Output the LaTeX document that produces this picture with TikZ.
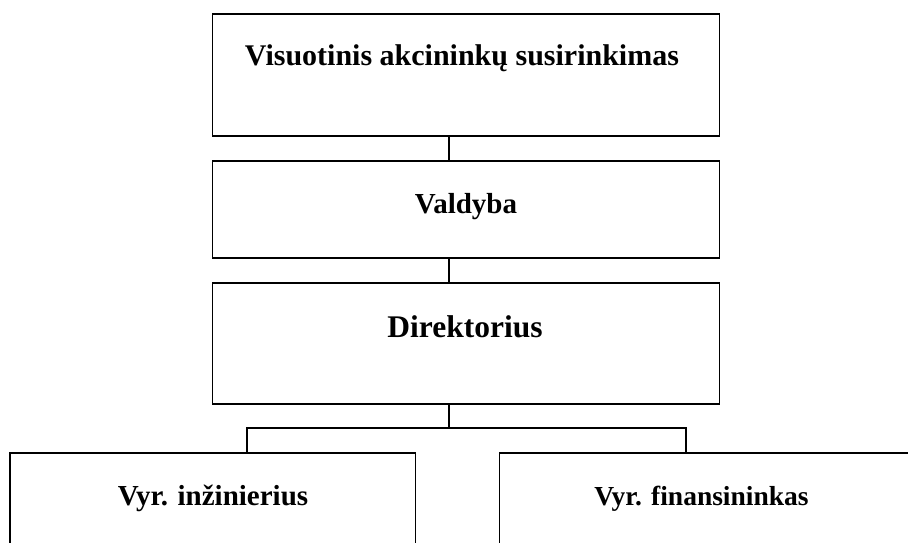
\documentclass[tikz,border=0pt]{standalone}
\usepackage{fontspec}
\setmainfont{Liberation Serif}
\usepackage{tikz}
\tikzstyle{bx}=[shape=rectangle,draw,line width=1.5pt,inner sep=0pt,minimum width=507pt]
\tikzstyle{lbl}=[anchor=base,inner sep=0pt,font=\fontsize{29}{31}\selectfont\bfseries]
\tikzstyle{link}=[line width=1.2pt]

\begin{document}
\begin{tikzpicture}[x=1pt,y=-1pt]
        \clip (0,0) rectangle (908,542);
        \useasboundingbox (0,0) rectangle (908,542);
        \node[bx, minimum height=122pt] (sus) at (466.2, 75) {};
        \node[bx, minimum height=97pt] (val) at (466.2, 209.5) {};
        \node[bx, minimum height=121pt] (dir) at (466.2, 343.5) {};
        \node[bx, minimum width=405.7pt, minimum height=130pt] (inz) at (212.85, 518) {};
        \node[bx, minimum width=430pt, minimum height=130pt] (fin) at (714.3, 518) {};
        \node[lbl, font=\fontsize{30}{32}\selectfont\bfseries] (susT) at (462, 65.7) {Visuotinis akcininkų susirinkimas};
        \node[lbl] (valT) at (466, 213.3) {Valdyba};
        \node[lbl, font=\fontsize{31.5}{33}\selectfont\bfseries] (dirT) at (465, 337.3) {Direktorius};
        \node[lbl] (inzT) at (213, 505) {Vyr. inžinierius};
        \node[lbl, font=\fontsize{27.5}{30}\selectfont\bfseries] (finT) at (701.5, 505) {Vyr. finansininkas};
        \coordinate (spine) at (449, 428);
        \coordinate (busL) at (247, 428);
        \coordinate (busR) at (686, 428);
        \draw[link] (sus.south -| spine) -- (val.north -| spine);
        \draw[link] (val.south -| spine) -- (dir.north -| spine);
        \draw[link] (dir.south -| spine) -- (spine);
        \draw[link] (inz.north -| busL) -- (busL) -- (busR) -- (fin.north -| busR);
    \end{tikzpicture}
\end{document}
